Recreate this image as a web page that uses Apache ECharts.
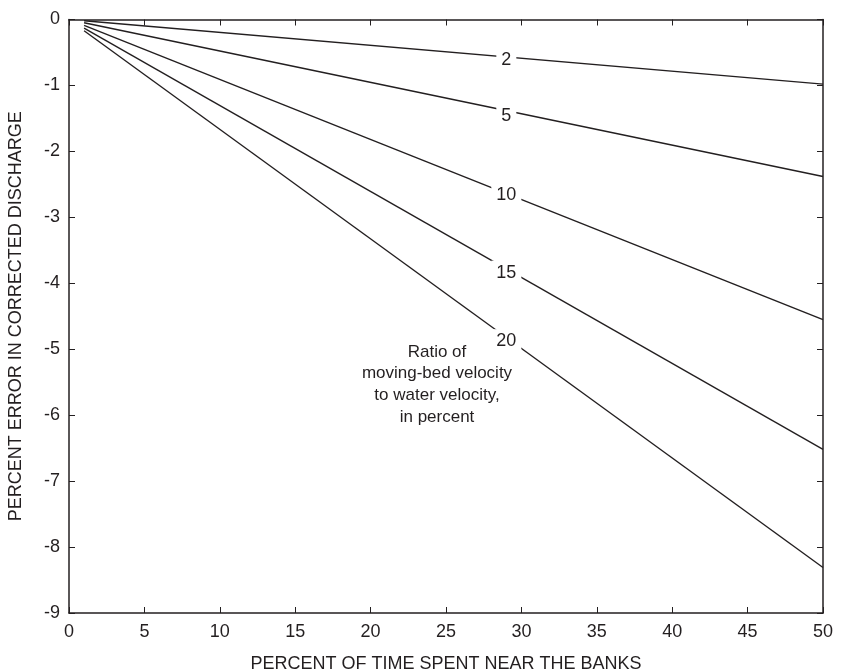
<!DOCTYPE html>
<html><head><meta charset="utf-8">
<script src="https://cdn.jsdelivr.net/npm/echarts@6/dist/echarts.min.js"></script>
<style>html,body{margin:0;padding:0;background:#fff}#c{width:848px;height:671px}</style>
</head><body><div id="c"></div>
<script>
const ratios = [2, 5, 10, 15, 20];
const xStart = 1;
const xEnd = 50;
const startValues = [-0.02, -0.05, -0.09, -0.13, -0.17];
const endValues = [-0.98, -2.38, -4.55, -6.52, -8.31];
const labelX = 29;
const labelValues = [-0.58, -1.42, -2.63, -3.80, -4.84];
const xTicks = [0, 5, 10, 15, 20, 25, 30, 35, 40, 45, 50];
const yTicks = [0, -1, -2, -3, -4, -5, -6, -7, -8, -9];
const noteLines = ['Ratio of', 'moving-bed velocity', 'to water velocity,', 'in percent'];

const FONT = '"Liberation Sans Narrow", "Liberation Sans", sans-serif';
const INK = '#231f20';

const chart = echarts.init(document.getElementById('c'), null, {renderer: 'canvas'});

const series = ratios.map((r, i) => ({
  type: 'line', name: String(r), xAxisIndex: 0, yAxisIndex: 0,
  data: [[xStart, startValues[i]], [xEnd, endValues[i]]],
  symbol: 'none', lineStyle: {color: INK, width: 1.4}, z: 2, silent: true
}));
series.push({
  type: 'scatter', xAxisIndex: 0, yAxisIndex: 0, symbolSize: 0, z: 5, silent: true,
  itemStyle: {opacity: 1, color: INK},
  data: ratios.map((r, i) => ({value: [labelX, labelValues[i]], name: String(r)})),
  label: {
    show: true, position: 'inside', formatter: p => p.name, offset: [0, 2.5],
    fontFamily: FONT, fontSize: 18, color: INK, opacity: 1,
    backgroundColor: '#fff', padding: [3, 5, 3, 5]
  }
});

chart.setOption({
  animation: false,
  grid: {left: 69, right: 25, top: 19.5, bottom: 58, containLabel: false, outerBoundsMode: 'none'},
  xAxis: [{
    type: 'value', min: 0, max: 50, interval: 5, position: 'bottom',
    name: 'PERCENT OF TIME SPENT NEAR THE BANKS', nameLocation: 'middle', nameGap: 42,
    nameTextStyle: {fontFamily: FONT, fontSize: 18, color: INK},
    axisLine: {show: true, onZero: false, lineStyle: {color: INK, width: 1.5}},
    axisTick: {show: true, inside: true, length: 6, lineStyle: {color: INK, width: 1}},
    axisLabel: {fontFamily: FONT, fontSize: 18, color: INK, margin: 10},
    splitLine: {show: false}
  }, {
    type: 'value', min: 0, max: 50, interval: 5, position: 'top',
    axisLine: {show: true, onZero: false, lineStyle: {color: INK, width: 1.5}},
    axisTick: {show: true, inside: true, length: 6, lineStyle: {color: INK, width: 1}},
    axisLabel: {show: false}, splitLine: {show: false}
  }],
  yAxis: [{
    type: 'value', min: -9, max: 0, interval: 1, position: 'left',
    name: 'PERCENT ERROR IN CORRECTED DISCHARGE', nameLocation: 'middle', nameGap: 44, nameRotate: 90,
    nameTextStyle: {fontFamily: FONT, fontSize: 18, color: INK},
    axisLine: {show: true, onZero: false, lineStyle: {color: INK, width: 1.5}},
    axisTick: {show: true, inside: true, length: 6, lineStyle: {color: INK, width: 1}},
    axisLabel: {fontFamily: FONT, fontSize: 18, color: INK, margin: 9},
    splitLine: {show: false}
  }, {
    type: 'value', min: -9, max: 0, interval: 1, position: 'right',
    axisLine: {show: true, onZero: false, lineStyle: {color: INK, width: 1.5}},
    axisTick: {show: true, inside: true, length: 6, lineStyle: {color: INK, width: 1}},
    axisLabel: {show: false}, splitLine: {show: false}
  }],
  graphic: [{
    type: 'text', x: 437, y: 341, z: 10, silent: true,
    style: {
      text: noteLines.join('\n'), align: 'center', verticalAlign: 'top',
      fontFamily: FONT, fontSize: 17, lineHeight: 21.7, fill: INK
    }
  }],
  series: series
});
</script></body></html>
